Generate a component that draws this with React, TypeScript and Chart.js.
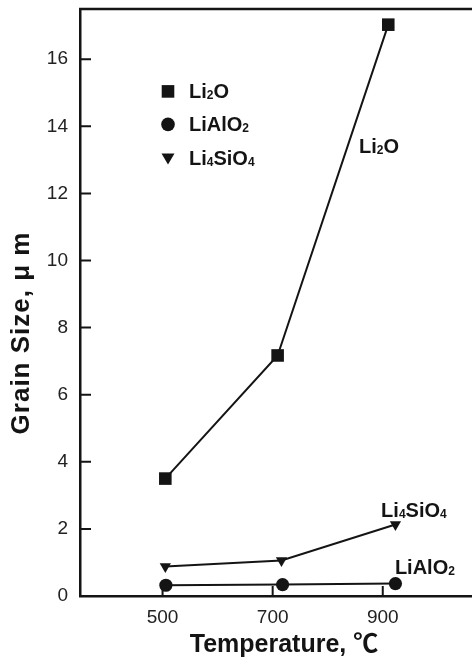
import React, { useEffect, useRef } from "react";
import { Chart, registerables } from "chart.js";

Chart.register(...registerables);

// Grain size (µm) against sintering temperature (°C)
const TEMP_LI2O = [505, 709, 910];
const SIZE_LI2O = [3.5, 7.17, 17.03];
const TEMP_LIALO2 = [506, 718, 923];
const SIZE_LIALO2 = [0.32, 0.34, 0.37];
const TEMP_LI4SIO4 = [505, 716, 923];
const SIZE_LI4SIO4 = [0.88, 1.06, 2.13];

const SERIES_NAMES = ["Li2O", "LiAlO2", "Li4SiO4"];
const SERIES_SHAPES = ["rect", "circle", "triangle"];

// in-plot series labels, placed in data units (left edge, vertical centre)
const LABEL_TEMP = [857, 922, 897];
const LABEL_SIZE = [13.4, 0.85, 2.55];

const X_TICKS = [500, 700, 900];
const Y_TICKS = [0, 2, 4, 6, 8, 10, 12, 14, 16];

const X_TITLE = "Temperature, \u2103";
const Y_TITLE = "Grain Size, \u03bc m";

const FONT = '"Liberation Sans", Arial, "Noto Sans CJK JP", sans-serif';
const INK = "#141414";

function toPoints(xs: number[], ys: number[]) {
  return xs.map((x, i) => ({ x, y: ys[i] }));
}

// chemical formula with digits set as subscripts
function drawFormula(ctx: CanvasRenderingContext2D, text: string, x: number, baseline: number, size: number) {
  let cx = x;
  const parts = text.match(/\d+|\D+/g) || [];
  for (const p of parts) {
    const sub = /\d/.test(p);
    ctx.font = `bold ${sub ? Math.round(size * 0.6) : size}px ${FONT}`;
    ctx.fillText(p, cx, baseline + (sub ? 1 : 0));
    cx += ctx.measureText(p).width;
  }
}

function drawMarker(ctx: CanvasRenderingContext2D, shape: string, x: number, y: number) {
  ctx.beginPath();
  if (shape === "rect") {
    ctx.rect(x - 6.3, y - 6.3, 12.6, 12.6);
  } else if (shape === "circle") {
    ctx.arc(x, y, 6.8, 0, Math.PI * 2);
  } else {
    ctx.moveTo(x - 6.5, y - 5);
    ctx.lineTo(x + 6.5, y - 5);
    ctx.lineTo(x, y + 6);
    ctx.closePath();
  }
  ctx.fill();
}

function noEdgePadding(s: any) {
  s.paddingTop = 0;
  s.paddingBottom = 0;
  s.paddingLeft = 0;
  s.paddingRight = 0;
}

const decorations = {
  id: "decorations",
  beforeDatasetsDraw(chart: any) {
    const { ctx, chartArea, scales } = chart;
    ctx.save();
    ctx.strokeStyle = INK;
    ctx.lineWidth = 2;
    // inward tick marks
    ctx.beginPath();
    for (const v of X_TICKS) {
      const px = scales.x.getPixelForValue(v);
      ctx.moveTo(px, chartArea.bottom);
      ctx.lineTo(px, chartArea.bottom - 10);
    }
    for (const v of Y_TICKS) {
      if (v === 0) continue;
      const py = scales.y.getPixelForValue(v);
      ctx.moveTo(chartArea.left, py);
      ctx.lineTo(chartArea.left + 11, py);
    }
    ctx.stroke();
    // top frame line
    ctx.lineWidth = 2.5;
    ctx.beginPath();
    ctx.moveTo(chartArea.left - 1, chartArea.top);
    ctx.lineTo(chartArea.right, chartArea.top);
    ctx.stroke();
    ctx.restore();
  },
  afterDatasetsDraw(chart: any) {
    const { ctx, chartArea, scales } = chart;
    ctx.save();
    ctx.fillStyle = INK;
    ctx.textAlign = "left";
    ctx.textBaseline = "alphabetic";
    // legend
    const lx = chartArea.left + 88;
    const rows = [chartArea.top + 82.5, chartArea.top + 115.5, chartArea.top + 149.5];
    SERIES_NAMES.forEach((name, i) => {
      drawMarker(ctx, SERIES_SHAPES[i], lx, rows[i]);
      drawFormula(ctx, name, lx + 21, rows[i] + 7, 20);
    });
    // series labels beside the curves
    SERIES_NAMES.forEach((name, i) => {
      const px = scales.x.getPixelForValue(LABEL_TEMP[i]);
      const py = scales.y.getPixelForValue(LABEL_SIZE[i]);
      drawFormula(ctx, name, px, py + 7, 20);
    });
    ctx.restore();
  },
  afterDraw(chart: any) {
    const { ctx } = chart;
    ctx.save();
    ctx.fillStyle = INK;
    ctx.font = `bold 25px ${FONT}`;
    ctx.textAlign = "center";
    ctx.textBaseline = "middle";
    ctx.fillText(X_TITLE, 284, 645);
    ctx.translate(22, 333);
    ctx.rotate(-Math.PI / 2);
    ctx.font = `bold 26px ${FONT}`;
    (ctx as any).letterSpacing = "1px";
    ctx.fillText(Y_TITLE, 0, 0);
    ctx.restore();
  },
};

export default function App() {
  const canvasRef = useRef<HTMLCanvasElement | null>(null);

  useEffect(() => {
    document.body.style.margin = "0";
    const canvas = canvasRef.current;
    if (!canvas) return;
    const common = {
      borderColor: INK,
      backgroundColor: INK,
      borderWidth: 2,
      pointBorderWidth: 0,
      tension: 0,
    };
    const chart = new Chart(canvas, {
      type: "line",
      data: {
        datasets: [
          { ...common, label: SERIES_NAMES[0], data: toPoints(TEMP_LI2O, SIZE_LI2O), pointStyle: "rect", pointRadius: 8.9 },
          { ...common, label: SERIES_NAMES[1], data: toPoints(TEMP_LIALO2, SIZE_LIALO2), pointStyle: "circle", pointRadius: 6.6 },
          { ...common, label: SERIES_NAMES[2], data: toPoints(TEMP_LI4SIO4, SIZE_LI4SIO4), pointStyle: "triangle", pointRotation: 180, pointRadius: 6.5 },
        ],
      },
      options: {
        animation: false,
        responsive: false,
        devicePixelRatio: 1,
        layout: { padding: { top: 7.5, left: 0, right: 0, bottom: 0 } },
        plugins: { legend: { display: false }, tooltip: { enabled: false } },
        scales: {
          x: {
            type: "linear",
            min: 350,
            max: 1075,
            afterBuildTicks: (s: any) => { s.ticks = X_TICKS.map((v) => ({ value: v })); },
            afterFit: (s: any) => { s.height = 67; noEdgePadding(s); },
            grid: { display: false, drawTicks: false },
            border: { display: true, color: INK, width: 2.5 },
            ticks: { padding: 10, color: "#222", font: { family: FONT, size: 19 }, maxRotation: 0 },
          },
          y: {
            type: "linear",
            min: 0,
            max: 17.5,
            afterBuildTicks: (s: any) => { s.ticks = Y_TICKS.map((v) => ({ value: v })); },
            afterFit: (s: any) => { s.width = 80; noEdgePadding(s); },
            grid: { display: false, drawTicks: false },
            border: { display: true, color: INK, width: 2.5 },
            ticks: { padding: 12, color: "#222", font: { family: FONT, size: 19 } },
          },
        },
      },
      plugins: [decorations],
    } as any);
    return () => chart.destroy();
  }, []);

  return (
    <div style={{ width: 472, height: 663, overflow: "hidden", position: "relative" }}>
      <canvas ref={canvasRef} width={488} height={663} style={{ display: "block", width: 488, height: 663 }} />
    </div>
  );
}
